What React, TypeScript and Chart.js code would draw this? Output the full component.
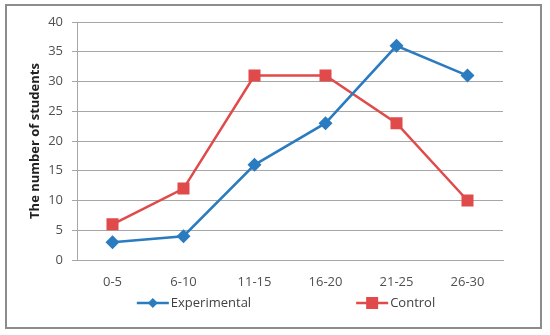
import React, { useEffect, useRef } from "react";
import { Chart, registerables } from "chart.js";

Chart.register(...registerables);

const categories = ["0-5", "6-10", "11-15", "16-20", "21-25", "26-30"];
const experimental = [3, 4, 16, 23, 36, 31];
const control = [6, 12, 31, 31, 23, 10];
const yTitle = "The number of students";
const seriesNames = ["Experimental", "Control"];

const BLUE = "#2a7bbf";
const RED = "#e04a4a";
const FONT = "'Open Sans', 'Noto Sans', sans-serif";

const framePlugin = {
  id: "frame",
  beforeDraw(chart: any) {
    const ctx = chart.ctx;
    ctx.save();
    ctx.fillStyle = "#ffffff";
    ctx.fillRect(0, 0, chart.width, chart.height);
    ctx.strokeStyle = "#8c8c8c";
    ctx.lineWidth = 2;
    ctx.strokeRect(6, 5, 535, 323);
    ctx.restore();
  },
  afterDraw(chart: any) {
    const ctx = chart.ctx;
    const ds = chart.data.datasets;
    ctx.save();
    ctx.font = `13px ${FONT}`;
    ctx.textBaseline = "middle";
    const lineLen = 32;
    const gap = 2;
    const itemGap = 105;
    const widths = ds.map((d: any) => lineLen + gap + ctx.measureText(d.label).width);
    const total = widths.reduce((a: number, b: number) => a + b, 0) + itemGap * (ds.length - 1);
    let x = 286 - total / 2;
    const y = 303;
    ds.forEach((d: any, i: number) => {
      ctx.strokeStyle = d.borderColor;
      ctx.lineWidth = 2.5;
      ctx.beginPath();
      ctx.moveTo(x, y);
      ctx.lineTo(x + lineLen, y);
      ctx.stroke();
      ctx.fillStyle = d.backgroundColor;
      const cx = x + lineLen / 2;
      if (d.pointStyle === "rect") {
        ctx.fillRect(cx - 6, y - 6, 12, 12);
      } else {
        ctx.beginPath();
        ctx.moveTo(cx - 5, y);
        ctx.lineTo(cx, y - 5);
        ctx.lineTo(cx + 5, y);
        ctx.lineTo(cx, y + 5);
        ctx.closePath();
        ctx.fill();
      }
      ctx.fillStyle = "#404040";
      ctx.textAlign = "left";
      ctx.fillText(d.label, x + lineLen + gap, y);
      x += widths[i] + itemGap;
    });
    ctx.restore();
  },
};

export default function App() {
  const ref = useRef<HTMLCanvasElement | null>(null);
  useEffect(() => {
    document.body.style.margin = "0";
    if (!ref.current) return;
    const chart = new Chart(ref.current, {
      type: "line",
      data: {
        labels: categories,
        datasets: [
          {
            label: seriesNames[0],
            data: experimental,
            borderColor: BLUE,
            backgroundColor: BLUE,
            borderWidth: 2.5,
            pointStyle: "rectRot",
            pointRadius: 7,
            pointBorderWidth: 0,
            tension: 0,
          },
          {
            label: seriesNames[1],
            data: control,
            borderColor: RED,
            backgroundColor: RED,
            borderWidth: 2.5,
            pointStyle: "rect",
            pointRadius: 8.5,
            pointBorderWidth: 0,
            tension: 0,
          },
        ],
      },
      options: {
        responsive: false,
        animation: false,
        layout: { padding: { left: 23, right: 47, top: 22, bottom: 45 } },
        plugins: { legend: { display: false }, tooltip: { enabled: false } },
        scales: {
          x: {
            offset: true,
            grid: { display: false },
            border: { display: true, color: "#a6a6a6" },
            ticks: { color: "#505050", font: { family: FONT, size: 13 }, padding: 6, maxRotation: 0 },
            afterFit(scale: any) {
              scale.height = 30;
            },
          },
          y: {
            min: 0,
            max: 40,
            ticks: { stepSize: 5, color: "#505050", font: { family: FONT, size: 13 }, padding: 9 },
            grid: { color: "#a6a6a6", tickLength: 5, lineWidth: 1 },
            border: { display: true, color: "#a6a6a6" },
            title: {
              display: true,
              text: yTitle,
              color: "#202020",
              font: { family: FONT, size: 13, weight: "bold" },
              padding: { top: 4, bottom: 4 },
            },
            afterFit(scale: any) {
              scale.width = 54;
            },
          },
        },
      },
      plugins: [framePlugin],
    });
    return () => chart.destroy();
  }, []);
  return (
    <div style={{ width: 550, height: 335 }}>
      <canvas ref={ref} width={550} height={335} style={{ display: "block" }} />
    </div>
  );
}
